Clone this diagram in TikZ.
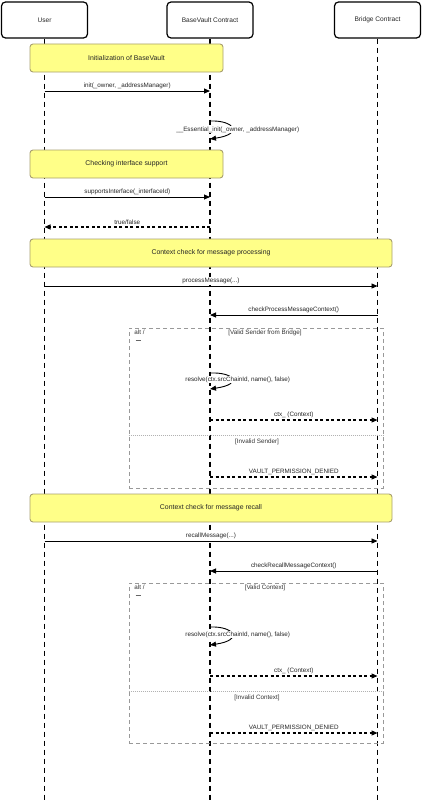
\documentclass[tikz,border=0pt]{standalone}
\usepackage{fontspec}
\setmainfont{Liberation Sans}
\usetikzlibrary{arrows.meta,positioning}
\definecolor{noteyellow}{HTML}{FFFF88}
\definecolor{noteborder}{HTML}{A89F6E}
\tikzset{
    actor/.style = {draw, line width=1.2pt, rounded corners=4pt, fill=white,
                 minimum width=86pt, minimum height=36pt, align=center,
                 font=\fontsize{6.6}{7.5}\selectfont, text=black!85},
    note/.style = {draw=noteborder, fill=noteyellow, line width=0.9pt, rounded corners=3pt,
                 minimum height=28pt, align=center, font=\fontsize{6.9}{8}\selectfont, text=black!85},
    life/.style = {line width=1.3pt, dash pattern=on 5pt off 4pt},
    msg/.style = {-{Triangle[length=6pt,width=5pt]}, line width=0.9pt},
    reply/.style = {-{Triangle[length=6pt,width=5pt]}, line width=1.1pt, dash pattern=on 3pt off 2.5pt},
    lbl/.style = {fill=white, inner sep=0.6pt, font=\fontsize{6.3}{7}\selectfont, text=black!85},
    guard/.style = {inner sep=0.6pt, font=\fontsize{6.3}{7}\selectfont, text=black!80},
    altframe/.style = {draw=black!40, line width=0.8pt, dash pattern=on 4pt off 3pt},
    altsep/.style = {draw=black!30, line width=0.5pt, dash pattern=on 1pt off 1pt},
}

\begin{document}
\begin{tikzpicture}[x=1pt,y=-1pt]
 \useasboundingbox (0,0) rectangle (422,800);
 \coordinate (bottom) at (0,800);

 % participants
 \node (user)   [actor] at (44.5,20) {User};
 \node (vault)  [actor] at (210,20)  {BaseVault Contract};
 \node (bridge) [actor] at (377.5,20) {Bridge Contract};

 % lifelines
 \draw[life] (user.south) -- (user.south |- bottom);
 \draw[life] (vault.south) -- (vault.south |- bottom);
 \draw[life] (bridge.south) -- (bridge.south |- bottom);

 % message rows on the lifelines
 \foreach \r/\y in {a/91, b/121, c/139, d/197, e/227, f/286, g/315, h/373, i/389,
                    j/420, k/477, l/541, m/571, n/627, o/645, p/676, q/733} {
   \coordinate (u-\r) at (user.south |- 0,\y);
   \coordinate (v-\r) at (vault.south |- 0,\y);
   \coordinate (b-\r) at (bridge.south |- 0,\y);
 }

 % notes
 \node (n1) [note, minimum width=193pt] at (126.5,58)  {Initialization of BaseVault};
 \node (n2) [note, minimum width=193pt] at (126.5,164) {Checking interface support};
 \node (n3) [note, minimum width=362pt] at (211,253)   {Context check for message processing};
 \node (n4) [note, minimum width=362pt] at (211,508)   {Context check for message recall};

 % initialization
 \draw[msg] (u-a) -- (v-a) node[lbl, midway, above=1pt] {init(\_owner, \_addressManager)};
 \draw[msg] (v-b) .. controls +(24,-1) and +(34,-5) .. (v-c)
      node[lbl, pos=0.5, xshift=6pt, yshift=-2pt] {\_\_Essential\_init(\_owner, \_addressManager)};

 % interface support
 \draw[msg] (u-d) -- (v-d) node[lbl, midway, above=1pt] {supportsInterface(\_interfaceId)};
 \draw[reply] (v-e) -- (u-e) node[lbl, midway, above=1pt] {true/false};

 % message processing
 \draw[msg] (u-f) -- (b-f) node[lbl, midway, above=1pt] {processMessage(...)};
 \draw[msg] (b-g) -- (v-g) node[lbl, midway, above=1pt] {checkProcessMessageContext()};

 \node (alt1) [altframe, minimum width=254pt, minimum height=160pt] at (256,408) {};
 \draw[altsep] ([yshift=-108pt]alt1.north west) -- ([yshift=-108pt]alt1.north east);
 \node[guard, anchor=north west] at ([xshift=5pt,yshift=-2pt]alt1.north west) {alt /};
 \draw[black!60, line width=0.4pt] ([xshift=7pt,yshift=-13pt]alt1.north west) -- ++(5,0);
 \node[guard] at (265,333) {[Valid Sender from Bridge]};
 \node[guard] at (257,442) {[Invalid Sender]};

 \draw[msg] (v-h) .. controls +(24,-1) and +(34,-5) .. (v-i)
      node[lbl, pos=0.5, xshift=6pt, yshift=-1pt] {resolve(ctx.srcChainId, name(), false)};
 \draw[reply] (v-j) -- (b-j) node[lbl, midway, above=1pt] {ctx\_ (Context)};
 \draw[reply] (v-k) -- (b-k) node[lbl, midway, above=1pt] {VAULT\_PERMISSION\_DENIED};

 % message recall
 \draw[msg] (u-l) -- (b-l) node[lbl, midway, above=1pt] {recallMessage(...)};
 \draw[msg] (b-m) -- (v-m) node[lbl, midway, above=1pt] {checkRecallMessageContext()};

 \node (alt2) [altframe, minimum width=254pt, minimum height=160pt] at (256,663) {};
 \draw[altsep] ([yshift=-109pt]alt2.north west) -- ([yshift=-109pt]alt2.north east);
 \node[guard, anchor=north west] at ([xshift=5pt,yshift=-2pt]alt2.north west) {alt /};
 \draw[black!60, line width=0.4pt] ([xshift=7pt,yshift=-13pt]alt2.north west) -- ++(5,0);
 \node[guard] at (265,588) {[Valid Context]};
 \node[guard] at (257,698) {[Invalid Context]};

 \draw[msg] (v-n) .. controls +(24,-1) and +(34,-5) .. (v-o)
      node[lbl, pos=0.5, xshift=6pt, yshift=-1pt] {resolve(ctx.srcChainId, name(), false)};
 \draw[reply] (v-p) -- (b-p) node[lbl, midway, above=1pt] {ctx\_ (Context)};
 \draw[reply] (v-q) -- (b-q) node[lbl, midway, above=1pt] {VAULT\_PERMISSION\_DENIED};
\end{tikzpicture}
\end{document}
